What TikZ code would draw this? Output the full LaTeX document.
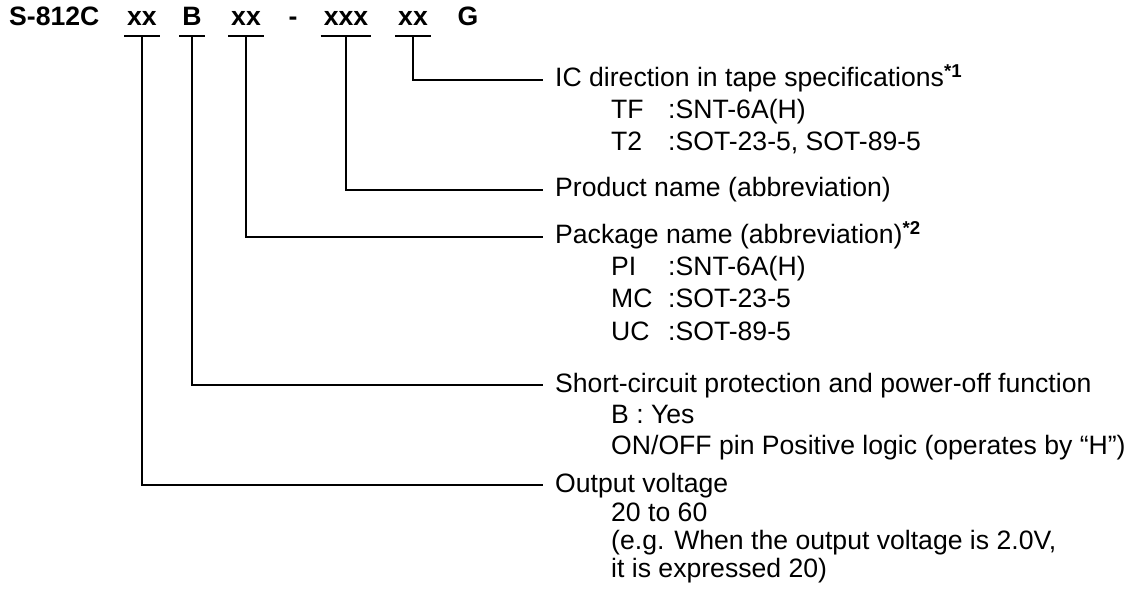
\documentclass[tikz,border=0pt]{standalone}
\usepackage{fontspec}
\setmainfont{Liberation Sans}
\usepackage{tikz}
\usetikzlibrary{positioning}

\tikzset{
  code/.style={font=\fontsize{26.6}{30}\selectfont\bfseries, anchor=base,
    inner xsep=3pt, inner ysep=0pt, text depth=10pt},
  title/.style={anchor=base west, inner xsep=12pt, inner ysep=0pt,
    text height=19pt, text depth=5pt},
  item/.style={anchor=base west, inner sep=0pt},
  lead/.style={line width=2pt},
}
\newcommand{\opt}[2]{\makebox[57pt][l]{#1}:#2}
\newcommand{\note}[1]{\textsuperscript{\bfseries *#1}}

\begin{document}
\begin{tikzpicture}[x=1pt,y=-1pt,every node/.style={font=\fontsize{26.6}{31}\selectfont}]
		\useasboundingbox (0,0) rectangle (1139,609);

		% model number
		\node[code,anchor=base west,inner xsep=0pt] (part) at (9,26) {S-812C};
		\node[code] (xa) at (142,26) {xx};
		\node[code] (b) at (192,26) {B};
		\node[code] (xb) at (246,26) {xx};
		\node[code] (dash) at (293,26) {-};
		\node[code] (xxx) at (346,26) {xxx};
		\node[code] (xc) at (413,26) {xx};
		\node[code] (g) at (468,26) {G};
		\foreach \n in {xa,b,xb,xxx,xc}
			\draw[lead] (\n.south west) -- (\n.south east);

		% descriptions
		\node[title] (ic) at (543,87) {IC direction in tape specifications\note{1}};
		\node[item] (tf) at (611,119) {\opt{TF}{SNT-6A(H)}};
		\node[item] (t2) at (611,151) {\opt{T2}{SOT-23-5, SOT-89-5}};

		\node[title] (prod) at (543,197) {Product name (abbreviation)};

		\node[title] (pkg) at (543,244) {Package name (abbreviation)\note{2}};
		\node[item] (pi) at (611,276) {\opt{PI}{SNT-6A(H)}};
		\node[item] (mc) at (611,308) {\opt{MC}{SOT-23-5}};
		\node[item] (uc) at (611,340) {\opt{UC}{SOT-89-5}};

		\node[title] (sc) at (543,392) {Short-circuit protection and power-off function};
		\node[item] (yes) at (611,423) {B : Yes};
		\node[item] (logic) at (611,454) {ON/OFF pin Positive logic (operates by “H”)};

		\node[title] (outv) at (543,492) {Output voltage};
		\node[item] (range) at (611,521) {20 to 60};
		\node[item] (eg) at (611,549) {(e.g. When the output voltage is 2.0V,};
		\node[item] (expr) at (611,577) {it is expressed 20)};

		% leaders
		\draw[lead] (xc.south) |- (ic.west);
		\draw[lead] (xxx.south) |- (prod.west);
		\draw[lead] (xb.south) |- (pkg.west);
		\draw[lead] (b.south) |- (sc.west);
		\draw[lead] (xa.south) |- (outv.west);
	\end{tikzpicture}
\end{document}
